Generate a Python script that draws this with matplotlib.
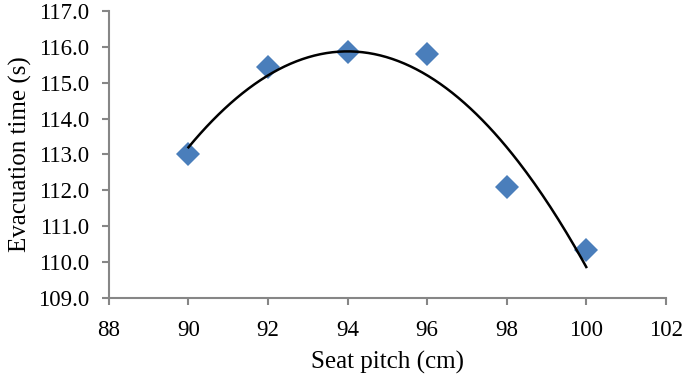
import numpy as np
import matplotlib
matplotlib.use("Agg")
import matplotlib.pyplot as plt

# Data
seat_pitch = [90, 92, 94, 96, 98, 100]
evac_time = [113.0, 115.45, 115.85, 115.8, 112.1, 110.35]

xticks = [88, 90, 92, 94, 96, 98, 100, 102]
yticks = [109.0, 110.0, 111.0, 112.0, 113.0, 114.0, 115.0, 116.0, 117.0]

plt.rcParams['font.family'] = ['Liberation Serif', 'DejaVu Serif']

fig = plt.figure(figsize=(6.85, 3.77), dpi=100)
ax = fig.add_axes([0.159, 0.2095, 0.813, 0.7615])

# polynomial (order 2) trendline, like the spreadsheet one
coef = np.polyfit(seat_pitch, evac_time, 2)
xs = np.linspace(seat_pitch[0], seat_pitch[-1], 200)
ax.plot(xs, np.polyval(coef, xs), color='black', lw=1.8, zorder=3)

ax.plot(seat_pitch, evac_time, linestyle='none', marker='D', markersize=12,
        color='#4a7ebb', markeredgewidth=0, zorder=2)

ax.set_xlim(88, 102)
ax.set_ylim(109, 117)
ax.set_xticks(xticks)
ax.set_yticks(yticks)
ax.set_yticklabels(["%.1f" % v for v in yticks])

for s in ['top', 'right']:
    ax.spines[s].set_visible(False)
for s in ['left', 'bottom']:
    ax.spines[s].set_color('#868686')
    ax.spines[s].set_linewidth(1.5)
ax.tick_params(direction='out', length=5, width=1.5, color='#868686',
               labelsize=16.5)
ax.tick_params(axis='y', pad=9)
ax.tick_params(axis='x', pad=11)

ax.set_xlabel("Seat pitch (cm)", fontsize=18)
ax.set_ylabel("Evacuation time (s)", fontsize=18)
ax.xaxis.label.set_va('center')
ax.yaxis.label.set_va('center')
ax.xaxis.set_label_coords(0.5, -0.226)
ax.yaxis.set_label_coords(-0.158, 0.5)

fig.savefig("out.png", dpi=100)
